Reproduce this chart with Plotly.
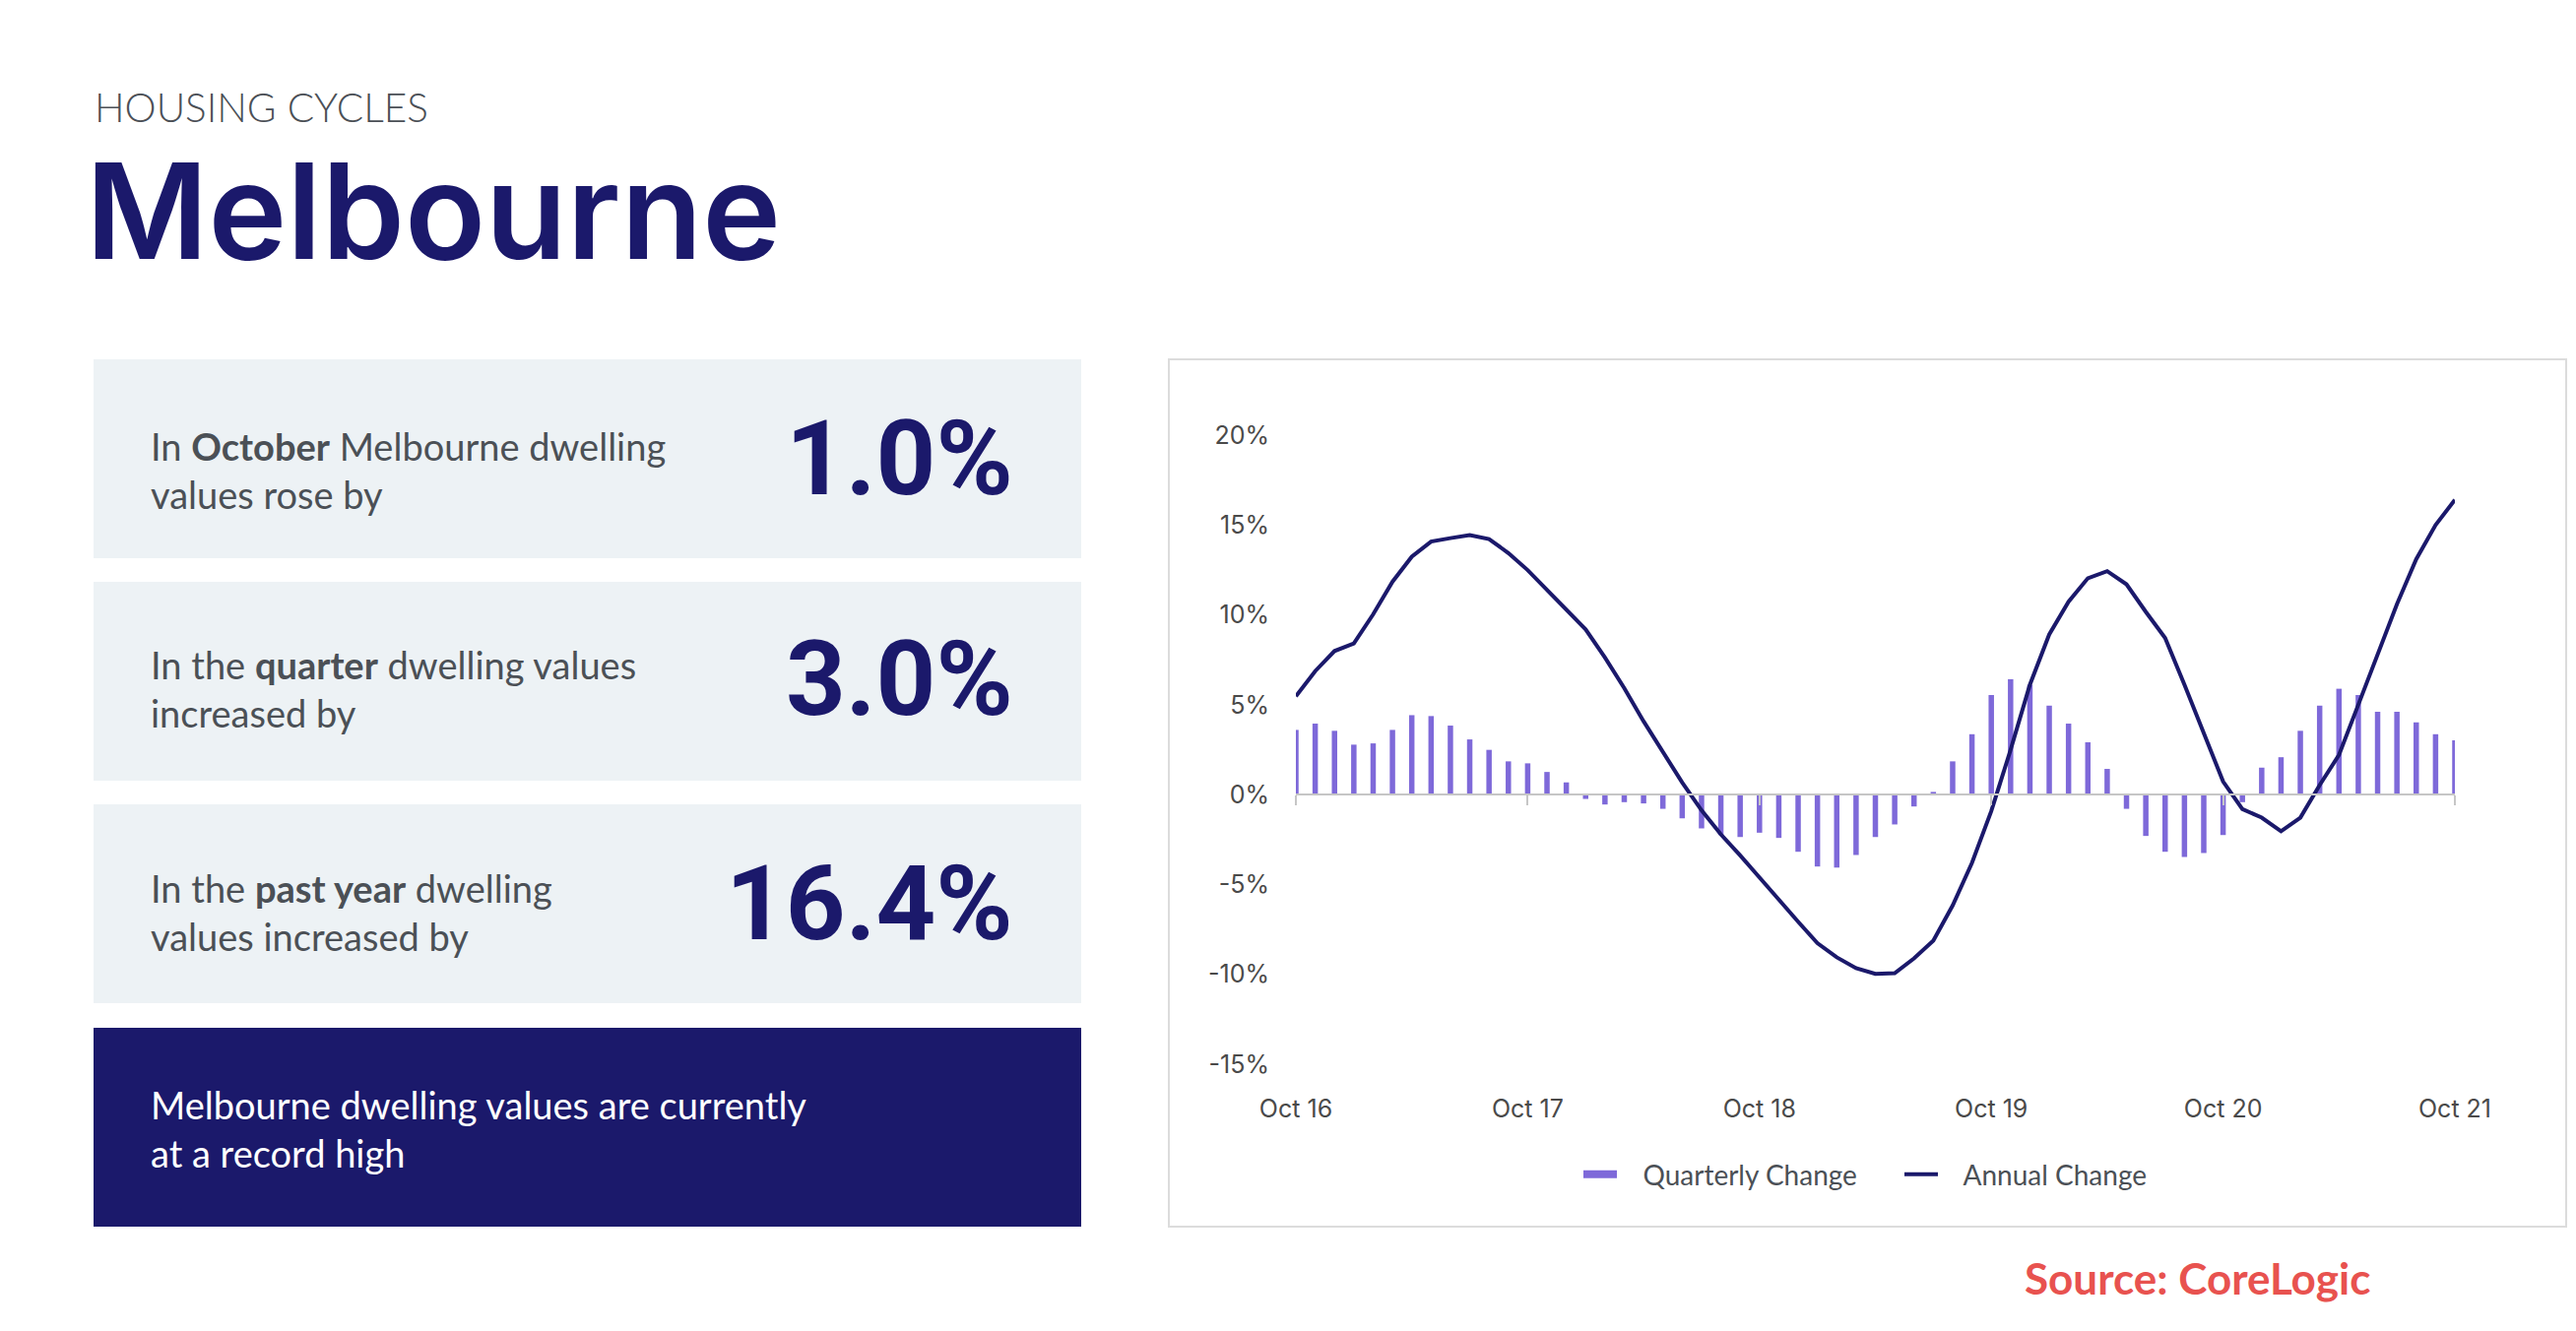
import plotly.graph_objects as go
import pandas as pd

# ---------------- data ----------------
months = [d.strftime("%b %y") for d in pd.date_range("2016-10-01", "2021-10-01", freq="MS")]
year_ticks = ["Oct 16", "Oct 17", "Oct 18", "Oct 19", "Oct 20", "Oct 21"]

quarterly = [3.6, 3.95, 3.55, 2.78, 2.85, 3.6, 4.42, 4.37, 3.84, 3.07, 2.49, 1.85,
             1.74, 1.26, 0.68, -0.24, -0.55, -0.42, -0.49, -0.79, -1.32, -1.88, -2.25, -2.36,
             -2.12, -2.41, -3.18, -4.0, -4.06, -3.36, -2.36, -1.66, -0.66, 0.15, 1.85, 3.36,
             5.54, 6.42, 6.11, 4.95, 3.95, 2.91, 1.43, -0.79, -2.30, -3.18, -3.47, -3.25,
             -2.25, -0.42, 1.50, 2.08, 3.55, 4.95, 5.89, 5.54, 4.61, 4.61, 4.02, 3.36, 3.02]

annual = [5.47, 6.87, 7.99, 8.41, 10.03, 11.84, 13.24, 14.08, 14.27, 14.44, 14.22, 13.44,
          12.49, 11.37, 10.25, 9.19, 7.63, 5.92, 4.08, 2.35, 0.67, -0.87, -2.21, -3.38,
          -4.64, -5.84, -7.07, -8.27, -9.05, -9.66, -9.97, -9.94, -9.11, -8.13, -6.17, -3.80,
          -0.92, 2.49, 6.12, 8.91, 10.73, 12.04, 12.43, 11.70, 10.17, 8.72, 6.12, 3.46,
          0.73, -0.81, -1.28, -2.04, -1.28, 0.53, 2.21, 5.0, 7.79, 10.59, 13.1, 15.0, 16.4]

y_ticks = [-15, -10, -5, 0, 5, 10, 15, 20]
y_ticktext = ["-15%", "-10%", "-5%", "0%", "5%", "10%", "15%", "20%"]

series_names = ["Quarterly Change", "Annual Change"]
stat_values = ["1.0%", "3.0%", "16.4%"]
stat_texts = ["In <b>October</b> Melbourne dwelling<br>values rose by",
              "In the <b>quarter</b> dwelling values<br>increased by",
              "In the <b>past year</b> dwelling<br>values increased by"]
highlight_text = "Melbourne dwelling values are currently<br>at a record high"

# ---------------- style ----------------
W, H = 2616, 1352
PL, PR, PT, PB = 1316, 2493, 442, 1081
NAVY = "#1b196b"
BAR = "#7e69d9"
GREY_TXT = "#4b5056"
BOX = "#edf2f5"
GAP = "\u00a0\u00a0\u00a0"

def px(x):
    return (x - PL) / (PR - PL)

def py(y):
    return (PB - y) / (PB - PT)

fig = go.Figure()
fig.add_bar(x=months, y=quarterly, marker=dict(color=BAR, line=dict(width=0)),
            showlegend=False, xaxis="x", yaxis="y", hoverinfo="skip")
fig.add_scatter(x=[months[0]], y=[None], mode="lines", line=dict(color=BAR, width=8),
                name=GAP + series_names[0], xaxis="x2", yaxis="y")
fig.add_scatter(x=months, y=annual, mode="lines", line=dict(color=NAVY, width=4),
                name=GAP + series_names[1], xaxis="x2", yaxis="y")

shapes = []
# chart frame
shapes.append(dict(type="rect", xref="paper", yref="paper", x0=px(1187), x1=px(2606),
                   y0=py(1246), y1=py(365), line=dict(color="#dcdcdc", width=2),
                   fillcolor="rgba(0,0,0,0)", layer="below"))
# stat boxes
box_tops = [365, 591, 817]
for t in box_tops:
    shapes.append(dict(type="rect", xref="paper", yref="paper", x0=px(95), x1=px(1098),
                       y0=py(t + 202), y1=py(t), line=dict(width=0), fillcolor=BOX, layer="below"))
shapes.append(dict(type="rect", xref="paper", yref="paper", x0=px(95), x1=px(1098),
                   y0=py(1246), y1=py(1044), line=dict(width=0), fillcolor=NAVY, layer="below"))

ann = []
ann.append(dict(text="HOUSING CYCLES", x=px(94), y=py(108), xref="paper", yref="paper",
                xanchor="left", yanchor="middle", showarrow=False,
                font=dict(family="Lato", size=40.5, color="#4b4f56", weight=300)))
ann.append(dict(text="Melbourne", x=px(85), y=py(214), xref="paper", yref="paper",
                xanchor="left", yanchor="middle", showarrow=False,
                font=dict(family="Inter", size=135, color=NAVY, weight=600)))
text_centers = [477, 699, 926]
num_centers = [466, 690, 918]
for txt, val, tc, nc in zip(stat_texts, stat_values, text_centers, num_centers):
    ann.append(dict(text=txt, x=px(151), y=py(tc), xref="paper", yref="paper",
                    xanchor="left", yanchor="middle", align="left", showarrow=False,
                    font=dict(family="Lato", size=38, color=GREY_TXT)))
    ann.append(dict(text=val, x=px(1031), y=py(nc), xref="paper", yref="paper",
                    xanchor="right", yanchor="middle", showarrow=False,
                    font=dict(family="Roboto", size=106, color=NAVY, weight=700)))
ann.append(dict(text=highlight_text, x=px(151), y=py(1146), xref="paper", yref="paper",
                xanchor="left", yanchor="middle", align="left", showarrow=False,
                font=dict(family="Lato", size=38, color="white")))
ann.append(dict(text="<b>Source: CoreLogic</b>", x=px(2231), y=py(1298), xref="paper", yref="paper",
                xanchor="center", yanchor="middle", showarrow=False,
                font=dict(family="Lato", size=44, color="#e8524f")))

fig.update_layout(
    width=W, height=H, autosize=False,
    margin=dict(l=PL, r=W - PR, t=PT, b=H - PB, pad=0),
    paper_bgcolor="white", plot_bgcolor="white",
    bargap=0.72,
    showlegend=True,
    legend=dict(orientation="h", x=px(1603), xanchor="left", y=py(1193), yanchor="middle",
                font=dict(family="Lato", size=28, color=GREY_TXT), bgcolor="rgba(0,0,0,0)",
                itemwidth=34, entrywidth=277, entrywidthmode="pixels"),
    shapes=shapes, annotations=ann,
    xaxis=dict(type="category", range=[0, len(months) - 1], anchor="free",
               position=(0 - y_ticks[0]) / (y_ticks[-1] - y_ticks[0]),
               showgrid=False, zeroline=False, showline=True, linecolor="#c6c6c6", linewidth=2,
               ticks="outside", ticklen=10, tickwidth=1.5, tickcolor="#c6c6c6",
               tickvals=year_ticks, showticklabels=False, fixedrange=True),
    xaxis2=dict(type="category", range=[0, len(months) - 1], overlaying="x", anchor="y", side="bottom",
                showgrid=False, zeroline=False, showline=False, ticks="",
                tickvals=year_ticks, ticktext=year_ticks, ticklabelstandoff=28,
                tickfont=dict(family="Inter", size=25, color="#4a4a4a")),
    yaxis=dict(range=[y_ticks[0], y_ticks[-1]], tickmode="array", tickvals=y_ticks, ticktext=y_ticktext,
               showgrid=False, zeroline=False, showline=False, ticks="",
               ticklabelstandoff=26,
               tickfont=dict(family="Inter", size=25, color="#4a4a4a")),
)

fig.write_html("out.html", config={"displayModeBar": False},
               post_script="document.body.style.margin='0';document.body.style.overflow='hidden';")
